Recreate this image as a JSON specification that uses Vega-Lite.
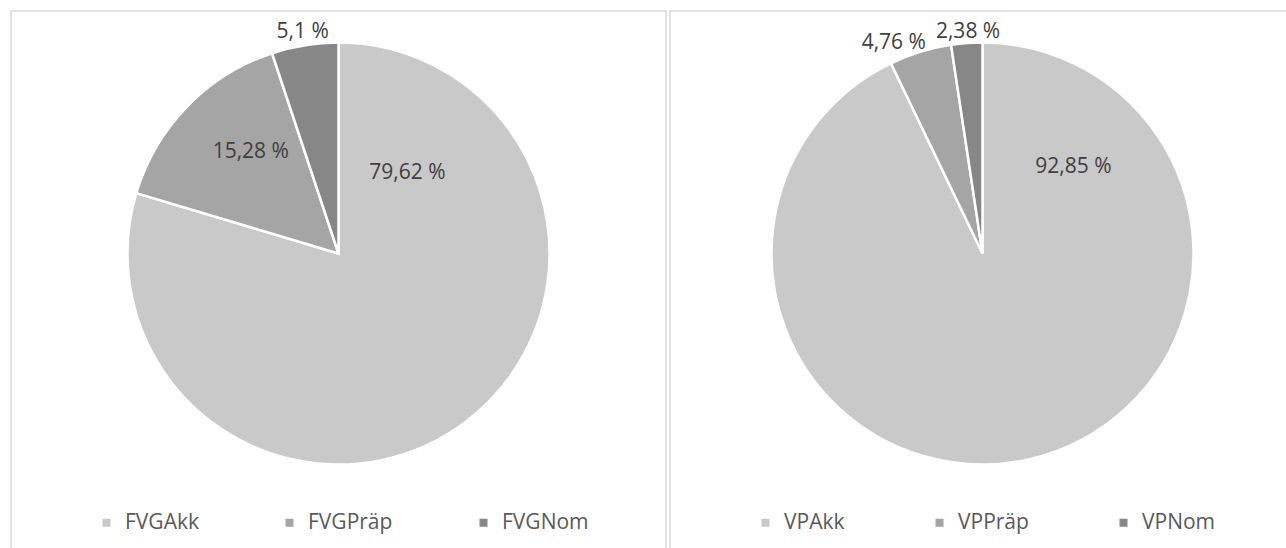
{
  "$schema": "https://vega.github.io/schema/vega-lite/v6.json",
  "padding": {"left": 10, "top": 10, "right": 0, "bottom": 0},
  "background": "white",
  "spacing": 2,
  "resolve": {"scale": {"color": "independent"}, "legend": {"color": "independent"}},
  "config": {
    "view": {"stroke": "#d9d9d9", "strokeWidth": 1.5},
    "font": "Open Sans",
    "legend": {
      "orient": "none",
      "direction": "horizontal",
      "symbolType": "square",
      "symbolSize": 64,
      "symbolStrokeWidth": 0,
      "labelFontSize": 21,
      "labelColor": "#595959",
      "labelFont": "Open Sans",
      "labelOffset": 8,
      "labelLimit": 300
    }
  },
  "datasets": {
    "left": [
      {"cat": "FVGAkk", "v": 79.62, "ord": 1, "label": "79,62 %"},
      {"cat": "FVGPräp", "v": 15.28, "ord": 2, "label": "15,28 %"},
      {"cat": "FVGNom", "v": 5.1, "ord": 3, "label": "5,1 %"}
    ],
    "right": [
      {"cat": "VPAkk", "v": 92.85, "ord": 1, "label": "92,85 %"},
      {"cat": "VPPräp", "v": 4.76, "ord": 2, "label": "4,76 %"},
      {"cat": "VPNom", "v": 2.38, "ord": 3, "label": "2,38 %"}
    ]
  },
  "hconcat": [
    {
      "width": 655,
      "height": 538,
      "view": {"stroke": "#d9d9d9", "strokeWidth": 1.5},
      "data": {"name": "left"},
      "encoding": {
        "theta": {"field": "v", "type": "quantitative", "stack": true},
        "order": {"field": "ord", "type": "quantitative"}
      },
      "layer": [
        {
          "mark": {"type": "arc", "radius": 211, "stroke": "white", "strokeWidth": 2.5, "yOffset": -26.5},
          "encoding": {
            "color": {
              "field": "cat", "type": "nominal",
              "scale": {"domain": ["FVGAkk", "FVGPräp", "FVGNom"], "range": ["#c9c9c9", "#a5a5a5", "#878787"]},
              "legend": {"title": null, "legendX": 85, "legendY": 501, "columnPadding": 80}
            }
          }
        },
        {
          "mark": {"type": "text", "radius": 106, "thetaOffset": -1.7925, "yOffset": -26.5, "fontSize": 21, "color": "#404040"},
          "encoding": {"text": {"condition": {"test": "datum.cat === 'FVGAkk'", "field": "label"}, "value": ""}}
        },
        {
          "mark": {"type": "text", "radius": 134, "thetaOffset": 0.087, "yOffset": -26.5, "fontSize": 21, "color": "#404040"},
          "encoding": {"text": {"condition": {"test": "datum.cat === 'FVGPräp'", "field": "label"}, "value": ""}}
        },
        {
          "mark": {"type": "text", "radius": 224.6, "thetaOffset": 0, "yOffset": -26.5, "fontSize": 21, "color": "#404040"},
          "encoding": {"text": {"condition": {"test": "datum.cat === 'FVGNom'", "field": "label"}, "value": ""}}
        }
      ]
    },
    {
      "width": 619,
      "height": 538,
      "view": {"stroke": "#d9d9d9", "strokeWidth": 1.5},
      "data": {"name": "right"},
      "encoding": {
        "theta": {"field": "v", "type": "quantitative", "stack": true},
        "order": {"field": "ord", "type": "quantitative"}
      },
      "layer": [
        {
          "mark": {"type": "arc", "radius": 211, "stroke": "white", "strokeWidth": 2.5, "yOffset": -26.5, "xOffset": 3},
          "encoding": {
            "color": {
              "field": "cat", "type": "nominal",
              "scale": {"domain": ["VPAkk", "VPPräp", "VPNom"], "range": ["#c9c9c9", "#a5a5a5", "#878787"]},
              "legend": {"title": null, "legendX": 85, "legendY": 501, "columnPadding": 84}
            }
          }
        },
        {
          "mark": {"type": "text", "radius": 125.5, "thetaOffset": -2.1066, "yOffset": -26.5, "xOffset": 3, "fontSize": 21, "color": "#404040"},
          "encoding": {"text": {"condition": {"test": "datum.cat === 'VPAkk'", "field": "label"}, "value": ""}}
        },
        {
          "mark": {"type": "text", "radius": 228.5, "thetaOffset": -0.0995, "yOffset": -26.5, "xOffset": 3, "fontSize": 21, "color": "#404040"},
          "encoding": {"text": {"condition": {"test": "datum.cat === 'VPPräp'", "field": "label"}, "value": ""}}
        },
        {
          "mark": {"type": "text", "radius": 221.5, "thetaOffset": 0.0096, "yOffset": -26.5, "xOffset": 3, "fontSize": 21, "color": "#404040"},
          "encoding": {"text": {"condition": {"test": "datum.cat === 'VPNom'", "field": "label"}, "value": ""}}
        }
      ]
    }
  ]
}
